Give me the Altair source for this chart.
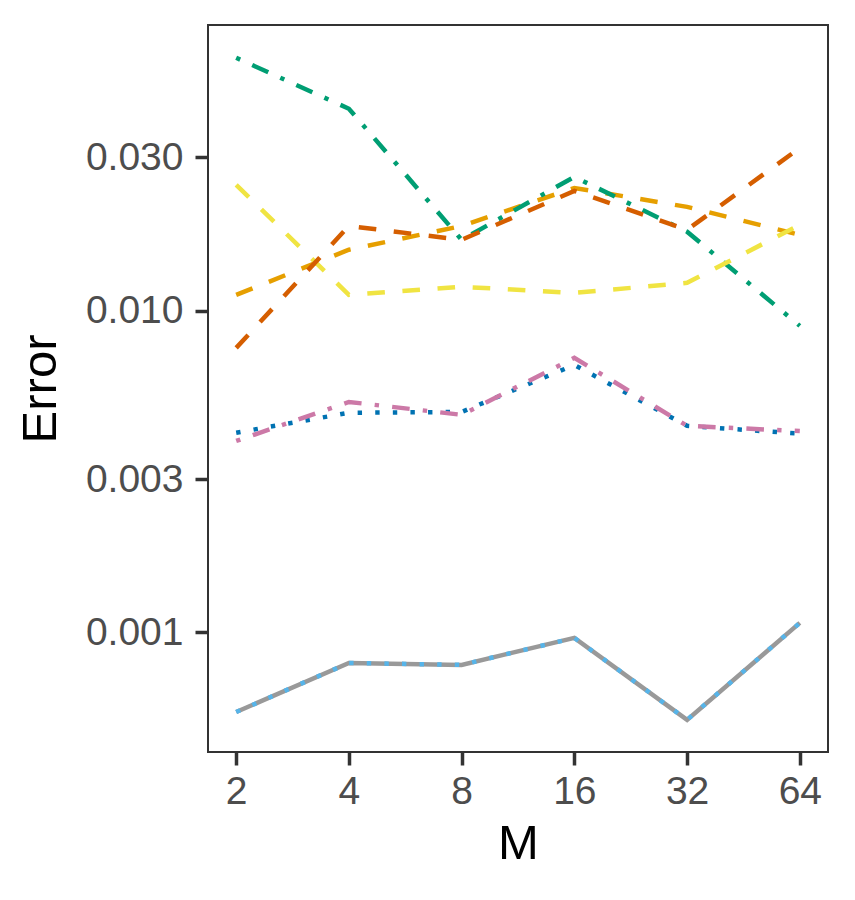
import altair as alt
import pandas as pd

# ---- data ----
M = [2, 4, 8, 16, 32, 64]

series_names = ["grey", "orange", "skyblue", "green", "yellow", "blue", "vermillion", "pink"]
grey = [0.000566, 0.000804, 0.000793, 0.000962, 0.000535, 0.001071]
orange = [0.01121, 0.01549, 0.01836, 0.0241, 0.02105, 0.01723]
skyblue = [0.000566, 0.000804, 0.000793, 0.000962, 0.000535, 0.001071]
green = [0.0612, 0.0425, 0.01663, 0.0261, 0.01762, 0.00898]
yellow = [0.02465, 0.01121, 0.01188, 0.01137, 0.01222, 0.0185]
blue = [0.00418, 0.00482, 0.00485, 0.00679, 0.00439, 0.00415]
vermillion = [0.00767, 0.01836, 0.01663, 0.0236, 0.01786, 0.0321]
pink = [0.00394, 0.00521, 0.00475, 0.00714, 0.00439, 0.00423]

values = {
    "grey": grey, "orange": orange, "skyblue": skyblue, "green": green,
    "yellow": yellow, "blue": blue, "vermillion": vermillion, "pink": pink,
}
colors = {
    "grey": "#999999", "orange": "#E69F00", "skyblue": "#56B4E9", "green": "#009E73",
    "yellow": "#F0E442", "blue": "#0072B2", "vermillion": "#D55E00", "pink": "#CC79A7",
}
u = 4.4
dashes = {
    "grey": None,
    "orange": [4 * u, 4 * u],
    "skyblue": [1 * u, 3 * u],
    "green": [1 * u, 3 * u, 4 * u, 3 * u],
    "yellow": [4 * u, 4 * u],
    "blue": [1 * u, 3 * u],
    "vermillion": [4 * u, 4 * u],
    "pink": [1 * u, 3 * u, 4 * u, 3 * u],
}

x_scale = alt.Scale(type="log", base=2, domain=[1.6818, 76.11], nice=False)
y_scale = alt.Scale(type="log", domain=[0.000425, 0.0774], nice=False)

x_axis = alt.Axis(values=M, format="d", title="M", titlePadding=8, labelPadding=7)
y_axis = alt.Axis(values=[0.001, 0.003, 0.01, 0.03], format=".3f", title="Error",
                  titlePadding=20, labelPadding=12)

layers = []
for name in series_names:
    df = pd.DataFrame({"M": M, "Error": values[name], "series": name})
    mark_kwargs = dict(color=colors[name], strokeWidth=4.5, strokeCap="butt", clip=True)
    if dashes[name] is not None:
        mark_kwargs["strokeDash"] = dashes[name]
    layer = alt.Chart(df).mark_line(**mark_kwargs).encode(
        x=alt.X("M:Q", scale=x_scale, axis=x_axis),
        y=alt.Y("Error:Q", scale=y_scale, axis=y_axis),
    )
    layers.append(layer)

chart = alt.layer(*layers).properties(
    width=620,
    height=727,
    background="white",
    autosize=alt.AutoSizeParams(type="none"),
    padding={"left": 200, "top": 17, "right": 19, "bottom": 140},
).configure_view(
    stroke="#333333", strokeWidth=2
).configure_axis(
    grid=False,
    domain=False,
    ticks=True,
    tickColor="#333333",
    tickWidth=3.5,
    tickSize=13,
    labelFont="Liberation Sans",
    labelFontSize=39,
    labelColor="#4D4D4D",
    titleFont="Liberation Sans",
    titleFontSize=49,
    titleFontWeight="normal",
    titleColor="#000000",
)

chart.save("out.html", embed_options={"renderer": "svg", "actions": False})
